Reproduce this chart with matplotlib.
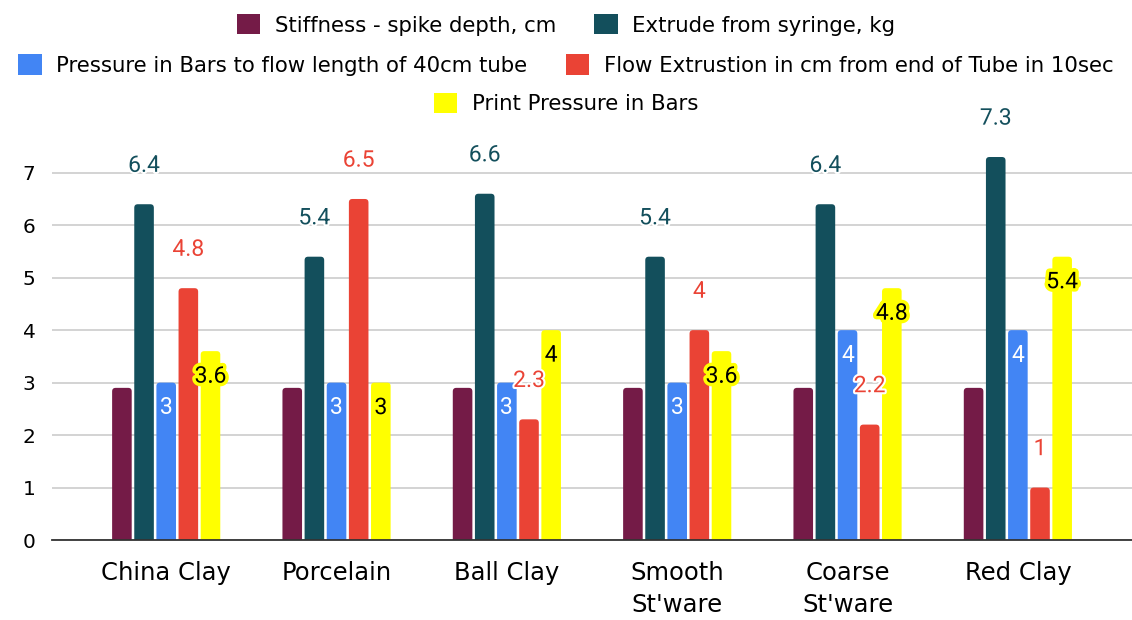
import numpy as np
import matplotlib
matplotlib.use("Agg")
import matplotlib.pyplot as plt
import matplotlib.patheffects as pe
from matplotlib.patches import Patch, FancyBboxPatch

# data
categories = ["China Clay", "Porcelain", "Ball Clay", "Smooth\nSt'ware", "Coarse\nSt'ware", "Red Clay"]
stiffness = [2.9, 2.9, 2.9, 2.9, 2.9, 2.9]
extrude = [6.4, 5.4, 6.6, 5.4, 6.4, 7.3]
pressure = [3, 3, 3, 3, 4, 4]
flow = [4.8, 6.5, 2.3, 4, 2.2, 1]
print_pressure = [3.6, 3, 4, 3.6, 4.8, 5.4]

names = ["Stiffness - spike depth, cm", "Extrude from syringe, kg",
         "Pressure in Bars to flow length of 40cm tube",
         "Flow Extrustion in cm from end of Tube in 10sec",
         "Print Pressure in Bars"]
colors = ["#741b47", "#134f5c", "#4285f4", "#ea4335", "#ffff00"]
series = [stiffness, extrude, pressure, flow, print_pressure]

fig = plt.figure(figsize=(11.32, 6.2), dpi=100)
ax = fig.add_axes([0.046, 0.129, 0.954, 0.677])

x = np.arange(len(categories))
step = 0.13
width = 0.115
ax.set_xlim(-0.67, 5.67)
ax.set_ylim(0, 8)

# px per data unit, used to get round corners that look circular
px_x = 0.954 * 1132 / 6.34
px_y = 0.677 * 620 / 8
rad = 3.5 / px_x

label_style = {1: dict(dy=28, color="#134f5c", halo="white", lw=3),
               3: dict(dy=28, color="#ea4335", halo="white", lw=3),
               2: dict(dy=-18, color="white", halo=None, lw=0),
               4: dict(dy=-18, color="black", halo="#ffff00", lw=5)}

for i, (vals, col) in enumerate(zip(series, colors)):
    xs = x + (i - 2) * step
    for xi, v in zip(xs, vals):
        bar = FancyBboxPatch((xi - width / 2, -0.2), width, v + 0.2,
                             boxstyle=f"round,pad=0,rounding_size={rad}",
                             mutation_aspect=px_x / px_y,
                             facecolor=col, edgecolor="none", zorder=3)
        ax.add_patch(bar)
        if i in label_style:
            st = label_style[i]
            effects = []
            if st["halo"]:
                effects = [pe.withStroke(linewidth=st["lw"], foreground=st["halo"])]
            ax.annotate(f"{v:g}", (xi, v), xytext=(0, st["dy"]), textcoords="offset points",
                        ha="center", va="center", fontsize=16.5, color=st["color"],
                        family="Roboto", zorder=6, path_effects=effects)

ax.set_yticks(range(0, 8))
ax.set_xticks(x)
ax.set_xticklabels(categories, fontsize=17.5, linespacing=1.45)
ax.tick_params(axis="y", labelsize=14.5, length=0, pad=12)
ax.tick_params(axis="x", length=0, pad=15)
ax.grid(axis="y", color="#cccccc", linewidth=1.2, zorder=0)
for s in ["top", "right", "left"]:
    ax.spines[s].set_visible(False)
ax.spines["bottom"].set_color("#333333")
ax.spines["bottom"].set_linewidth(1.3)
ax.spines["bottom"].set_zorder(4)

# legend in three centred rows
rows = [[0, 1], [2, 3], [4]]
ys = [0.96, 0.895, 0.833]
for row, yy in zip(rows, ys):
    handles = [Patch(facecolor=colors[k], label=names[k]) for k in row]
    fig.legend(handles=handles, loc="center", bbox_to_anchor=(0.5, yy), ncol=len(row),
               frameon=False, fontsize=15.3, handlelength=1.1, handleheight=1.1,
               handletextpad=0.7, columnspacing=1.8, borderpad=0)

fig.savefig("out.png", dpi=100)
